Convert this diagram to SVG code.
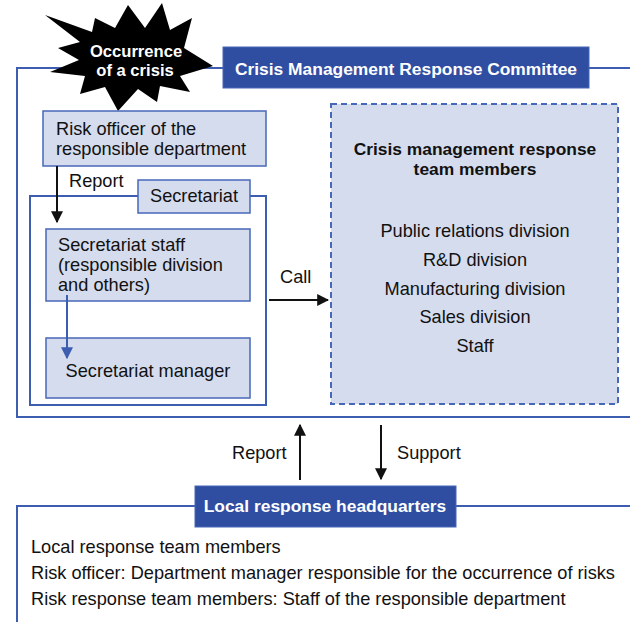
<svg xmlns="http://www.w3.org/2000/svg" width="630" height="622" viewBox="0 0 630 622">
<style>
.t{font-family:"Liberation Sans",Arial,sans-serif;font-size:18.2px;fill:#111}
.b{font-weight:bold;font-size:17.4px}
.w{fill:#fff;font-weight:bold;font-size:17.4px}
.s{font-size:16.6px}
.c{text-anchor:middle}
.frame{fill:none;stroke:#3d5db0;stroke-width:2}
.lbox{fill:#d5dcee;stroke:#4767b8;stroke-width:1.5}
.dbox{fill:#2f4ea2;stroke:#4767b8;stroke-width:1}
.ln{stroke:#111;stroke-width:2;fill:none}
</style>
<defs>
<marker id="ah" viewBox="0 0 10 10" refX="9" refY="5" markerWidth="6" markerHeight="6" orient="auto" markerUnits="strokeWidth"><path d="M0,0 L10,5 L0,10 z" fill="#111"/></marker>
<marker id="ahb" viewBox="0 0 10 10" refX="9" refY="5" markerWidth="6" markerHeight="6" orient="auto" markerUnits="strokeWidth"><path d="M0,0 L10,5 L0,10 z" fill="#3d5db0"/></marker>
</defs>
<rect width="630" height="622" fill="#fff"/>

<g id="committee">
<path class="frame" d="M640,68 H17 V417 H640"/>
</g>

<g id="crisis">
<polygon fill="#000" points="128,5 145,28 162,3 170,30 192,18 184,48 213,66 180,76 190,92 160,86 157,102 138,89 118,111 105,87 80,94 85,76 50,72 79,60 58,48 80,42 45,15 92,32 95,18 115,28"/>
<text class="t w s c" x="136" y="57">Occurrence</text>
<text class="t w s c" x="135" y="76">of a crisis</text>
</g>

<g id="committee-title">
<rect class="dbox" x="223" y="47" width="366" height="41"/>
<text class="t w c" x="406" y="75">Crisis Management Response Committee</text>
</g>

<g id="risk-officer">
<rect class="lbox" x="43" y="111" width="223" height="55"/>
<text class="t" x="56" y="135">Risk officer of the</text>
<text class="t" x="56" y="155">responsible department</text>
</g>

<g id="secretariat">
<rect class="frame" x="30" y="196" width="236" height="209"/>
<rect class="lbox" x="138" y="180" width="112" height="33"/>
<text class="t c" x="194" y="202">Secretariat</text>
</g>

<g id="secretariat-staff">
<rect class="lbox" x="46" y="229" width="204" height="72"/>
<text class="t" x="58" y="251">Secretariat staff</text>
<text class="t" x="58" y="271">(responsible division</text>
<text class="t" x="58" y="291">and others)</text>
</g>

<g id="secretariat-manager">
<rect class="lbox" x="46" y="338" width="204" height="60"/>
<text class="t c" x="148" y="377">Secretariat manager</text>
</g>

<g id="team-members">
<rect x="331" y="104" width="287" height="300" fill="#d5dcee" stroke="#4767b8" stroke-width="2" stroke-dasharray="6,4"/>
<text class="t b c" x="475" y="155">Crisis management response</text>
<text class="t b c" x="475" y="175">team members</text>
<text class="t c" x="475" y="237">Public relations division</text>
<text class="t c" x="475" y="266">R&amp;D division</text>
<text class="t c" x="475" y="295">Manufacturing division</text>
<text class="t c" x="475" y="323">Sales division</text>
<text class="t c" x="475" y="352">Staff</text>
</g>

<g id="local-hq">
<path class="frame" d="M640,506 H17 V640"/>
<rect class="dbox" x="195" y="486" width="261" height="41"/>
<text class="t w c" x="325" y="512">Local response headquarters</text>
<text class="t" x="31" y="553">Local response team members</text>
<text class="t" x="31" y="579">Risk officer: Department manager responsible for the occurrence of risks</text>
<text class="t" x="31" y="605">Risk response team members: Staff of the responsible department</text>
</g>

<g id="connectors">
<line class="ln" x1="57" y1="166" x2="57" y2="222" marker-end="url(#ah)"/>
<text class="t" x="69" y="187">Report</text>
<line x1="67" y1="295" x2="67" y2="358" stroke="#3d5db0" stroke-width="2" marker-end="url(#ahb)"/>
<line class="ln" x1="269" y1="300" x2="328" y2="300" marker-end="url(#ah)"/>
<text class="t" x="280" y="283">Call</text>
<line class="ln" x1="300" y1="480" x2="300" y2="425" marker-end="url(#ah)"/>
<text class="t" x="232" y="459">Report</text>
<line class="ln" x1="381" y1="425" x2="381" y2="479" marker-end="url(#ah)"/>
<text class="t" x="397" y="459">Support</text>
</g>
</svg>
